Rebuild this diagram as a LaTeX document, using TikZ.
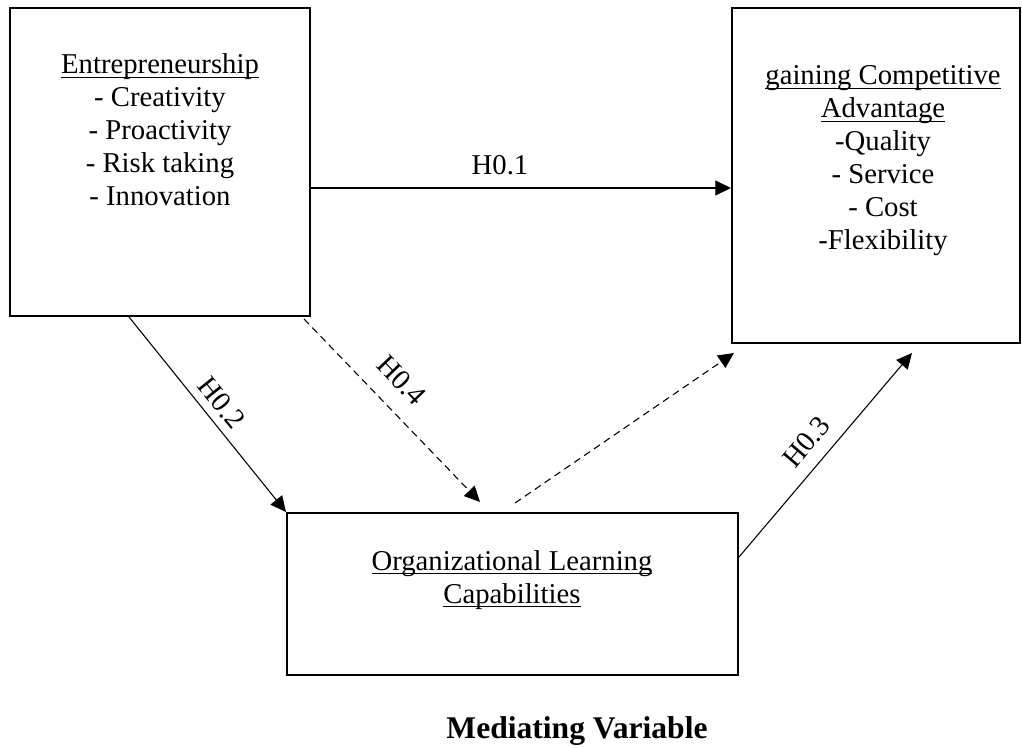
\documentclass[tikz,border=0pt]{standalone}
\usepackage{fontspec}
\setmainfont{Liberation Serif}
\usetikzlibrary{calc}
\usetikzlibrary{arrows.meta}

\newcommand{\undl}[1]{\setbox0\hbox{#1}\rlap{\rule[-1.7pt]{\wd0}{0.55pt}}\box0}

\tikzset{
  box/.style={draw,line width=.85pt,inner sep=0pt},
  txt/.style={align=center,inner sep=0pt,font=\fontsize{12}{13.8}\selectfont},
  link/.style={-{Triangle[length=6.5pt,width=6.2pt]},line width=.45pt},
  hyp/.style={sloped,font=\fontsize{12}{13.8}\selectfont},
}

\begin{document}
\begin{tikzpicture}[x=0.418pt,y=-0.418pt]
\useasboundingbox (0,0) rectangle (1022,747);
\node[box,minimum width=125.4pt,minimum height=128.7pt] (ent) at (160,162) {};
\node[box,minimum width=120.4pt,minimum height=140pt] (gca) at (876,175.5) {};
\node[box,minimum width=188.5pt,minimum height=67.7pt] (olc) at (512.5,594) {};
\node[txt] (enttxt) at (160,130) {\undl{Entrepreneurship}\\- Creativity\\- Proactivity\\- Risk taking\\- Innovation};
\node[txt] (gcatxt) at (883,161) {\undl{gaining Competitive}\\\undl{Advantage}\\-Quality\\- Service\\- Cost\\-Flexibility};
\node[txt] (olctxt) at (512,580) {\undl{Organizational Learning}\\\undl{Capabilities}};
\node[anchor=base,inner sep=0pt,font=\bfseries\fontsize{13.2}{15}\selectfont] (med) at (577,738) {Mediating Variable};
\coordinate (h01) at (0,188);
\draw[link] (ent.east |- h01) -- node[hyp,above=2pt,pos=.45]{H0.1} (gca.west |- h01);
\draw[link] ($(ent.south west)+(120,0)$) -- node[hyp,above,pos=.5]{H0.2} (olc.north west);
\draw[link,dash pattern=on 3pt off 2pt] ($(ent.south east)+(-7,2)$) -- node[hyp,above=4pt,pos=.44]{H0.4} ($(olc.north)+(-32.5,-10)$);
\draw[link,dash pattern=on 3pt off 2pt] ($(olc.north)+(2.5,-9)$) -- ($(gca.south west)+(3,9)$);
\draw[link] ($(olc.east)+(0,-37)$) -- node[hyp,above=2pt,pos=.49]{H0.3} ($(gca.south)+(36,9)$);
\end{tikzpicture}
\end{document}
